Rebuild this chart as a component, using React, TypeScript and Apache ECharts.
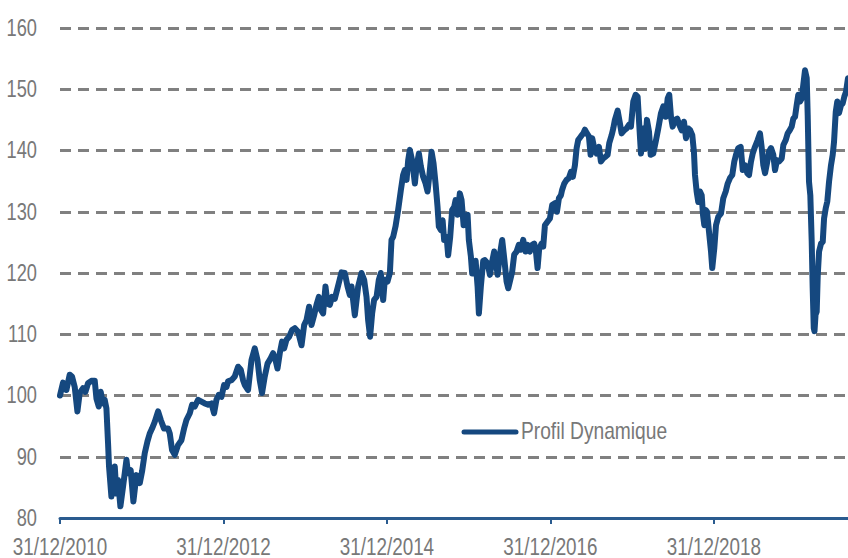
import React, { useEffect, useRef } from "react";
import * as echarts from "echarts";

// x values: years elapsed since 31/12/2010
const years = [
  0.000, 0.037, 0.078, 0.119, 0.147, 0.180, 0.213, 0.241, 0.282, 0.311,
  0.343, 0.384, 0.425, 0.446, 0.474, 0.498, 0.526, 0.547, 0.568, 0.588,
  0.600, 0.629, 0.670, 0.690, 0.710, 0.739, 0.771, 0.813, 0.832, 0.865,
  0.898, 0.935, 0.976, 1.004, 1.037, 1.070, 1.098, 1.126, 1.159, 1.200,
  1.233, 1.273, 1.322, 1.343, 1.371, 1.404, 1.444, 1.486, 1.518, 1.547,
  1.588, 1.616, 1.649,
  1.689, 1.731, 1.771, 1.812, 1.853, 1.885, 1.914, 1.942, 1.976, 2.007,
  2.037, 2.056, 2.098, 2.138, 2.179, 2.212, 2.240, 2.261, 2.301, 2.343,
  2.383, 2.416, 2.444, 2.472, 2.505, 2.539, 2.579, 2.607, 2.637, 2.661,
  2.689, 2.717, 2.742, 2.771, 2.803, 2.840, 2.873, 2.913, 2.955, 2.987,
  3.016, 3.048, 3.077, 3.109, 3.138, 3.167, 3.191, 3.219, 3.248, 3.273,
  3.301, 3.329, 3.362, 3.395, 3.444, 3.485,
  3.518, 3.546, 3.567, 3.607, 3.648, 3.689, 3.721, 3.750, 3.770, 3.794,
  3.819, 3.843, 3.873, 3.901, 3.925, 3.954, 3.974, 4.007, 4.036, 4.056,
  4.076, 4.105, 4.137, 4.170, 4.198, 4.219, 4.240, 4.260, 4.280, 4.308,
  4.342, 4.362, 4.391, 4.415, 4.443, 4.473, 4.497, 4.522, 4.546, 4.570,
  4.595, 4.619, 4.635, 4.660, 4.681, 4.700, 4.730, 4.749, 4.774, 4.798,
  4.823, 4.840, 4.864, 4.892, 4.913, 4.938, 4.962, 4.987, 5.002, 5.027,
  5.043, 5.067, 5.085, 5.109, 5.125, 5.149, 5.178,
  5.198, 5.231, 5.260, 5.288, 5.312, 5.333, 5.354, 5.382, 5.410, 5.435,
  5.464, 5.484, 5.504, 5.532, 5.557, 5.586, 5.614, 5.639, 5.667, 5.696,
  5.721, 5.749, 5.777, 5.802, 5.823, 5.843, 5.863, 5.892, 5.912, 5.933,
  5.966, 5.994, 6.022, 6.055, 6.080, 6.104, 6.129, 6.144, 6.169, 6.198,
  6.226, 6.251, 6.275, 6.300, 6.321, 6.340, 6.373, 6.402, 6.422, 6.447,
  6.471, 6.492, 6.512, 6.536, 6.565, 6.594, 6.618, 6.646, 6.676, 6.700,
  6.720, 6.749, 6.769,
  6.789, 6.823, 6.847, 6.871, 6.903, 6.933, 6.961, 6.985, 7.014, 7.043,
  7.067, 7.087, 7.108, 7.136, 7.157, 7.181, 7.206, 7.227, 7.258, 7.288,
  7.320, 7.353, 7.381, 7.410, 7.435, 7.454, 7.475, 7.496, 7.524, 7.552,
  7.577, 7.606, 7.634, 7.659, 7.687, 7.711, 7.736, 7.756, 7.769, 7.789,
  7.809, 7.830, 7.851, 7.867, 7.883, 7.900, 7.916, 7.940, 7.965, 7.980,
  8.005, 8.026, 8.054, 8.087, 8.115, 8.145, 8.169, 8.197, 8.225, 8.250,
  8.271, 8.299, 8.328, 8.353, 8.381, 8.409, 8.430, 8.454, 8.475, 8.503,
  8.536, 8.564, 8.585, 8.605,
  8.626, 8.654, 8.674, 8.699, 8.727, 8.748, 8.772, 8.797, 8.830, 8.850,
  8.879, 8.903, 8.928, 8.952, 8.972, 8.993, 9.013, 9.033, 9.054, 9.075,
  9.094, 9.115, 9.136, 9.148, 9.164, 9.180, 9.197, 9.209, 9.222, 9.231,
  9.244, 9.258, 9.271, 9.287, 9.311, 9.332, 9.348, 9.369, 9.388, 9.409,
  9.433, 9.454, 9.470, 9.491, 9.510, 9.531, 9.555, 9.576, 9.596, 9.617, 9.641,
];

const values = [
  100.0, 102.1, 100.9, 103.4, 103.1, 101.4, 97.4, 100.4, 101.2, 100.6,
  102.0, 102.4, 102.4, 99.5, 98.2, 100.6, 98.7, 99.3, 97.9, 92.2,
  88.4, 83.5, 88.4, 84.0, 86.2, 81.9, 85.1, 89.5, 87.3, 87.8,
  82.7, 87.0, 85.7, 87.6, 90.6, 92.5, 93.8, 94.6, 95.7, 97.4,
  96.0, 94.6, 94.6, 93.8, 91.1, 90.3, 91.9, 92.7, 94.6, 96.0,
  97.1, 98.5, 98.2,
  99.3, 99.0, 98.7, 98.5, 98.7, 97.1, 99.3, 100.1, 99.8, 101.7,
  101.4, 102.3, 102.5, 103.1, 104.7, 104.2, 102.5, 101.7, 100.9, 105.8,
  107.7, 105.8, 102.5, 100.4, 103.1, 105.2, 106.1, 106.9, 105.8, 104.4,
  106.9, 108.8, 107.7, 109.1, 109.6, 110.7, 111.0, 110.4, 108.2, 111.5,
  112.3, 114.5, 111.5, 113.1, 114.8, 116.1, 114.0, 113.4, 117.8, 115.0,
  114.8, 116.1, 115.8, 117.5, 120.1, 120.0,
  117.8, 116.4, 117.8, 113.1, 117.8, 120.0, 118.9, 116.1, 112.3, 109.6,
  113.4, 115.6, 116.1, 118.9, 120.0, 115.6, 118.9, 118.6, 120.0, 125.4,
  125.9, 127.6, 130.3, 133.5, 136.0, 136.8, 135.2, 138.4, 140.1, 138.4,
  134.6, 137.4, 139.5, 137.4, 135.7, 134.6, 133.3, 136.3, 139.8, 137.9,
  134.6, 130.8, 127.6, 127.0, 128.6, 125.4, 125.9, 122.9, 125.9, 130.3,
  130.8, 131.9, 129.5, 133.0, 131.9, 127.8, 129.2, 129.5, 125.4, 122.7,
  119.9, 119.9, 122.0, 117.8, 113.4, 117.8, 122.0,
  122.1, 121.6, 119.7, 121.9, 123.5, 121.9, 119.7, 123.0, 125.4, 122.4,
  118.6, 117.5, 118.6, 120.2, 123.0, 123.5, 124.6, 123.8, 125.4, 123.5,
  124.6, 123.5, 124.6, 124.8, 123.5, 120.8, 124.0, 124.8, 124.3, 127.8,
  128.4, 128.9, 131.1, 131.4, 130.0, 132.2, 132.7, 133.6, 134.6, 135.2,
  135.5, 136.5, 135.7, 137.6, 140.4, 141.7, 142.3, 142.8, 143.4, 142.8,
  142.3, 139.3, 142.0, 140.4, 139.5, 140.6, 138.2, 138.7, 139.0, 139.3,
  141.2, 142.5, 143.6,
  145.0, 146.5, 144.7, 142.8, 143.3, 143.6, 144.2, 143.9, 148.0, 149.1,
  148.8, 144.2, 139.5, 143.6, 140.3, 145.0, 143.1, 139.3, 139.5, 141.4,
  143.6, 146.1, 147.2, 145.5, 148.5, 149.1, 145.5, 143.9, 145.0, 145.2,
  144.2, 143.3, 144.7, 142.0, 143.6, 143.3, 142.5, 139.8, 136.0, 133.3,
  131.6, 133.3, 132.7, 129.5, 127.8, 130.3, 130.0, 126.8, 123.5, 120.8,
  124.0, 127.8, 129.2, 129.7, 132.2, 133.3, 134.6, 135.5, 136.0, 138.2,
  139.3, 140.4, 140.6, 136.8, 137.6, 136.3, 136.0, 138.2, 139.5, 140.6,
  141.7, 142.8, 140.5, 137.6,
  136.3, 138.2, 139.8, 140.4, 139.3, 136.8, 138.4, 138.2, 138.7, 140.9,
  141.7, 142.8, 143.3, 143.9, 145.2, 145.5, 147.4, 149.1, 148.0, 148.5,
  150.7, 153.1, 151.8, 145.8, 134.9, 132.7, 125.1, 117.5, 111.0, 110.5,
  113.2, 113.7, 119.7, 123.5, 124.8, 125.1, 128.9, 130.6, 131.7, 134.9,
  137.6, 139.3, 141.4, 146.3, 148.0, 146.1, 147.4, 147.7, 148.8, 149.6, 151.8,
];

const xTickYears = [0, 2, 4, 6, 8];
const xTickLabels = ["31/12/2010", "31/12/2012", "31/12/2014", "31/12/2016", "31/12/2018"];
const yTicks = [80, 90, 100, 110, 120, 130, 140, 150, 160];
const xMax = 9.641;
const seriesName = "Profil Dynamique";

export default function App() {
  const ref = useRef<HTMLDivElement>(null);
  useEffect(() => {
    document.body.style.margin = "0";
    const chart = echarts.init(ref.current!, null, { renderer: "svg" });
    const font = '"Liberation Sans", Arial, sans-serif';
    const textColor = "#787878";
    const blue = "#15487f";
    const axisBlue = "#2a5b8f";
    chart.setOption({
      animation: false,
      backgroundColor: "#ffffff",
      grid: { left: 60, right: 0, top: 28, bottom: 40, containLabel: false },
      xAxis: {
        type: "value",
        min: 0,
        max: xMax,
        axisLine: { show: true, lineStyle: { color: axisBlue, width: 3 } },
        axisTick: {
          show: true,
          length: 6,
          lineStyle: { color: axisBlue, width: 2 },
          customValues: xTickYears,
        },
        axisLabel: { show: false },
        splitLine: { show: false },
      },
      yAxis: {
        type: "value",
        min: yTicks[0],
        max: yTicks[yTicks.length - 1],
        interval: yTicks[1] - yTicks[0],
        axisLine: { show: false },
        axisTick: { show: false },
        axisLabel: { show: false },
        splitLine: { lineStyle: { color: "#808080", width: 3, type: [11, 7] } },
      },
      series: [
        {
          type: "line",
          name: seriesName,
          data: years.map((t, i) => [t, values[i]]),
          showSymbol: false,
          symbol: "none",
          itemStyle: { color: blue },
          lineStyle: { color: blue, width: 6, cap: "round", join: "round" },
          clip: true,
          z: 5,
        },
      ],
    });

    const axisY = chart.convertToPixel({ yAxisIndex: 0 }, yTicks[0]) as number;
    const gridLeft = chart.convertToPixel({ xAxisIndex: 0 }, 0) as number;
    const yLabelEls = yTicks.map((v) => ({
      type: "text",
      x: gridLeft - 23,
      y: chart.convertToPixel({ yAxisIndex: 0 }, v) as number,
      scaleX: 0.76,
      style: {
        text: String(v),
        align: "right",
        verticalAlign: "middle",
        fill: textColor,
        fontSize: 24,
        fontFamily: font,
      },
    }));
    const xLabelEls = xTickYears.map((t, i) => ({
      type: "text",
      x: chart.convertToPixel({ xAxisIndex: 0 }, t) as number,
      y: axisY + 28.5,
      scaleX: 0.82,
      style: {
        text: xTickLabels[i],
        align: "center",
        verticalAlign: "middle",
        fill: textColor,
        fontSize: 23,
        fontFamily: font,
      },
    }));
    const legendEls = [
      {
        type: "line",
        shape: { x1: 464, y1: 432, x2: 516, y2: 432 },
        style: { stroke: blue, lineWidth: 5, lineCap: "round" },
      },
      {
        type: "text",
        x: 521,
        y: 431,
        scaleX: 0.8,
        style: {
          text: seriesName,
          align: "left",
          verticalAlign: "middle",
          fill: textColor,
          fontSize: 24,
          fontFamily: font,
        },
      },
    ];
    chart.setOption({ graphic: [...yLabelEls, ...xLabelEls, ...legendEls] });
    return () => chart.dispose();
  }, []);
  return <div ref={ref} style={{ position: "fixed", left: 0, top: 0, width: 848, height: 558 }} />;
}
